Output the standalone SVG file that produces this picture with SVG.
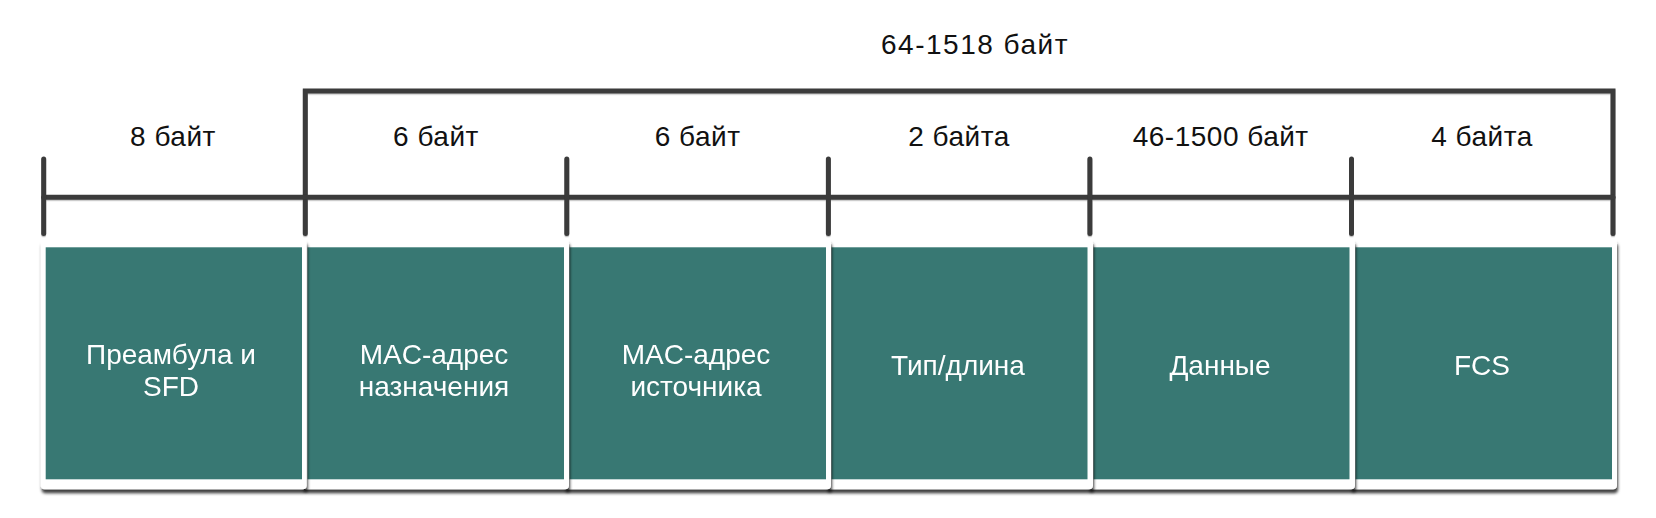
<svg xmlns="http://www.w3.org/2000/svg" width="1656" height="518" viewBox="0 0 1656 518">
  <defs>
    <filter id="cardShadow" x="-5%" y="-5%" width="110%" height="115%">
      <feDropShadow dx="1" dy="4" stdDeviation="1.6" flood-color="#000" flood-opacity="0.75"/>
    </filter>
    <filter id="lineShadow" x="-2%" y="-20%" width="104%" height="140%">
      <feDropShadow dx="0" dy="1.2" stdDeviation="0.6" flood-color="#000" flood-opacity="0.25"/>
    </filter>
  </defs>
  <style>
    .line { fill: none; stroke: #3a3a3a; stroke-width: 5; stroke-linecap: round; stroke-linejoin: miter; }
    .card { fill: #ffffff; }
    .teal { fill: #377873; }
    .lbl { font-family: "Liberation Sans", Arial, sans-serif; font-size: 28px; fill: #111111; text-anchor: middle; letter-spacing: 0.5px; }
    .title { letter-spacing: 1.5px; }
    .box { font-family: "Liberation Sans", Arial, sans-serif; font-size: 28px; fill: #ffffff; text-anchor: middle; }
  </style>
  <rect width="1656" height="518" fill="#ffffff"/>

  <g id="connectors" filter="url(#lineShadow)">
    <path class="line" d="M305.3,233.5 V91 H1613 V233.5"/>
    <line class="line" x1="43.7" y1="197.3" x2="1613" y2="197.3"/>
    <line class="line" x1="43.7" y1="159" x2="43.7" y2="233.5"/>
    <line class="line" x1="566.8" y1="159" x2="566.8" y2="233.5"/>
    <line class="line" x1="828.4" y1="159" x2="828.4" y2="233.5"/>
    <line class="line" x1="1089.9" y1="159" x2="1089.9" y2="233.5"/>
    <line class="line" x1="1351.5" y1="159" x2="1351.5" y2="233.5"/>
  </g>

  <g id="labels">
    <text class="lbl title" x="975" y="54">64-1518 байт</text>
    <text class="lbl" x="173" y="146">8 байт</text>
    <text class="lbl" x="436" y="146">6 байт</text>
    <text class="lbl" x="697.6" y="146">6 байт</text>
    <text class="lbl" x="959" y="146">2 байта</text>
    <text class="lbl" x="1220.7" y="146">46-1500 байт</text>
    <text class="lbl" x="1482" y="146">4 байта</text>
  </g>

  <g id="node-fcs" filter="url(#cardShadow)">
    <rect class="card" x="1350.5" y="239.3" width="266.5" height="250" rx="4"/>
    <rect class="teal" x="1355.5" y="247.3" width="256.5" height="232"/>
    <text class="box" x="1482" y="375">FCS</text>
  </g>
  <g id="node-data" filter="url(#cardShadow)">
    <rect class="card" x="1088.5" y="239.3" width="266.5" height="250" rx="4"/>
    <rect class="teal" x="1093.5" y="247.3" width="256" height="232"/>
    <text class="box" x="1220" y="375">Данные</text>
  </g>
  <g id="node-type" filter="url(#cardShadow)">
    <rect class="card" x="826.5" y="239.3" width="266.5" height="250" rx="4"/>
    <rect class="teal" x="831.5" y="247.3" width="256" height="232"/>
    <text class="box" x="958" y="375">Тип/длина</text>
  </g>
  <g id="node-src" filter="url(#cardShadow)">
    <rect class="card" x="564.5" y="239.3" width="266.5" height="250" rx="4"/>
    <rect class="teal" x="569.5" y="247.3" width="256.5" height="232"/>
    <text class="box" x="696" y="364.3">MAC-адрес</text>
    <text class="box" x="696" y="395.7">источника</text>
  </g>
  <g id="node-dst" filter="url(#cardShadow)">
    <rect class="card" x="302.5" y="239.3" width="266.5" height="250" rx="4"/>
    <rect class="teal" x="307.5" y="247.3" width="256.5" height="232"/>
    <text class="box" x="434" y="364.3">MAC-адрес</text>
    <text class="box" x="434" y="395.7">назначения</text>
  </g>
  <g id="node-preamble" filter="url(#cardShadow)">
    <rect class="card" x="40.7" y="239.3" width="266" height="250" rx="4"/>
    <rect class="teal" x="45.7" y="247.3" width="256.3" height="232"/>
    <text class="box" x="171" y="364.3">Преамбула и</text>
    <text class="box" x="171" y="395.7">SFD</text>
  </g>
</svg>
